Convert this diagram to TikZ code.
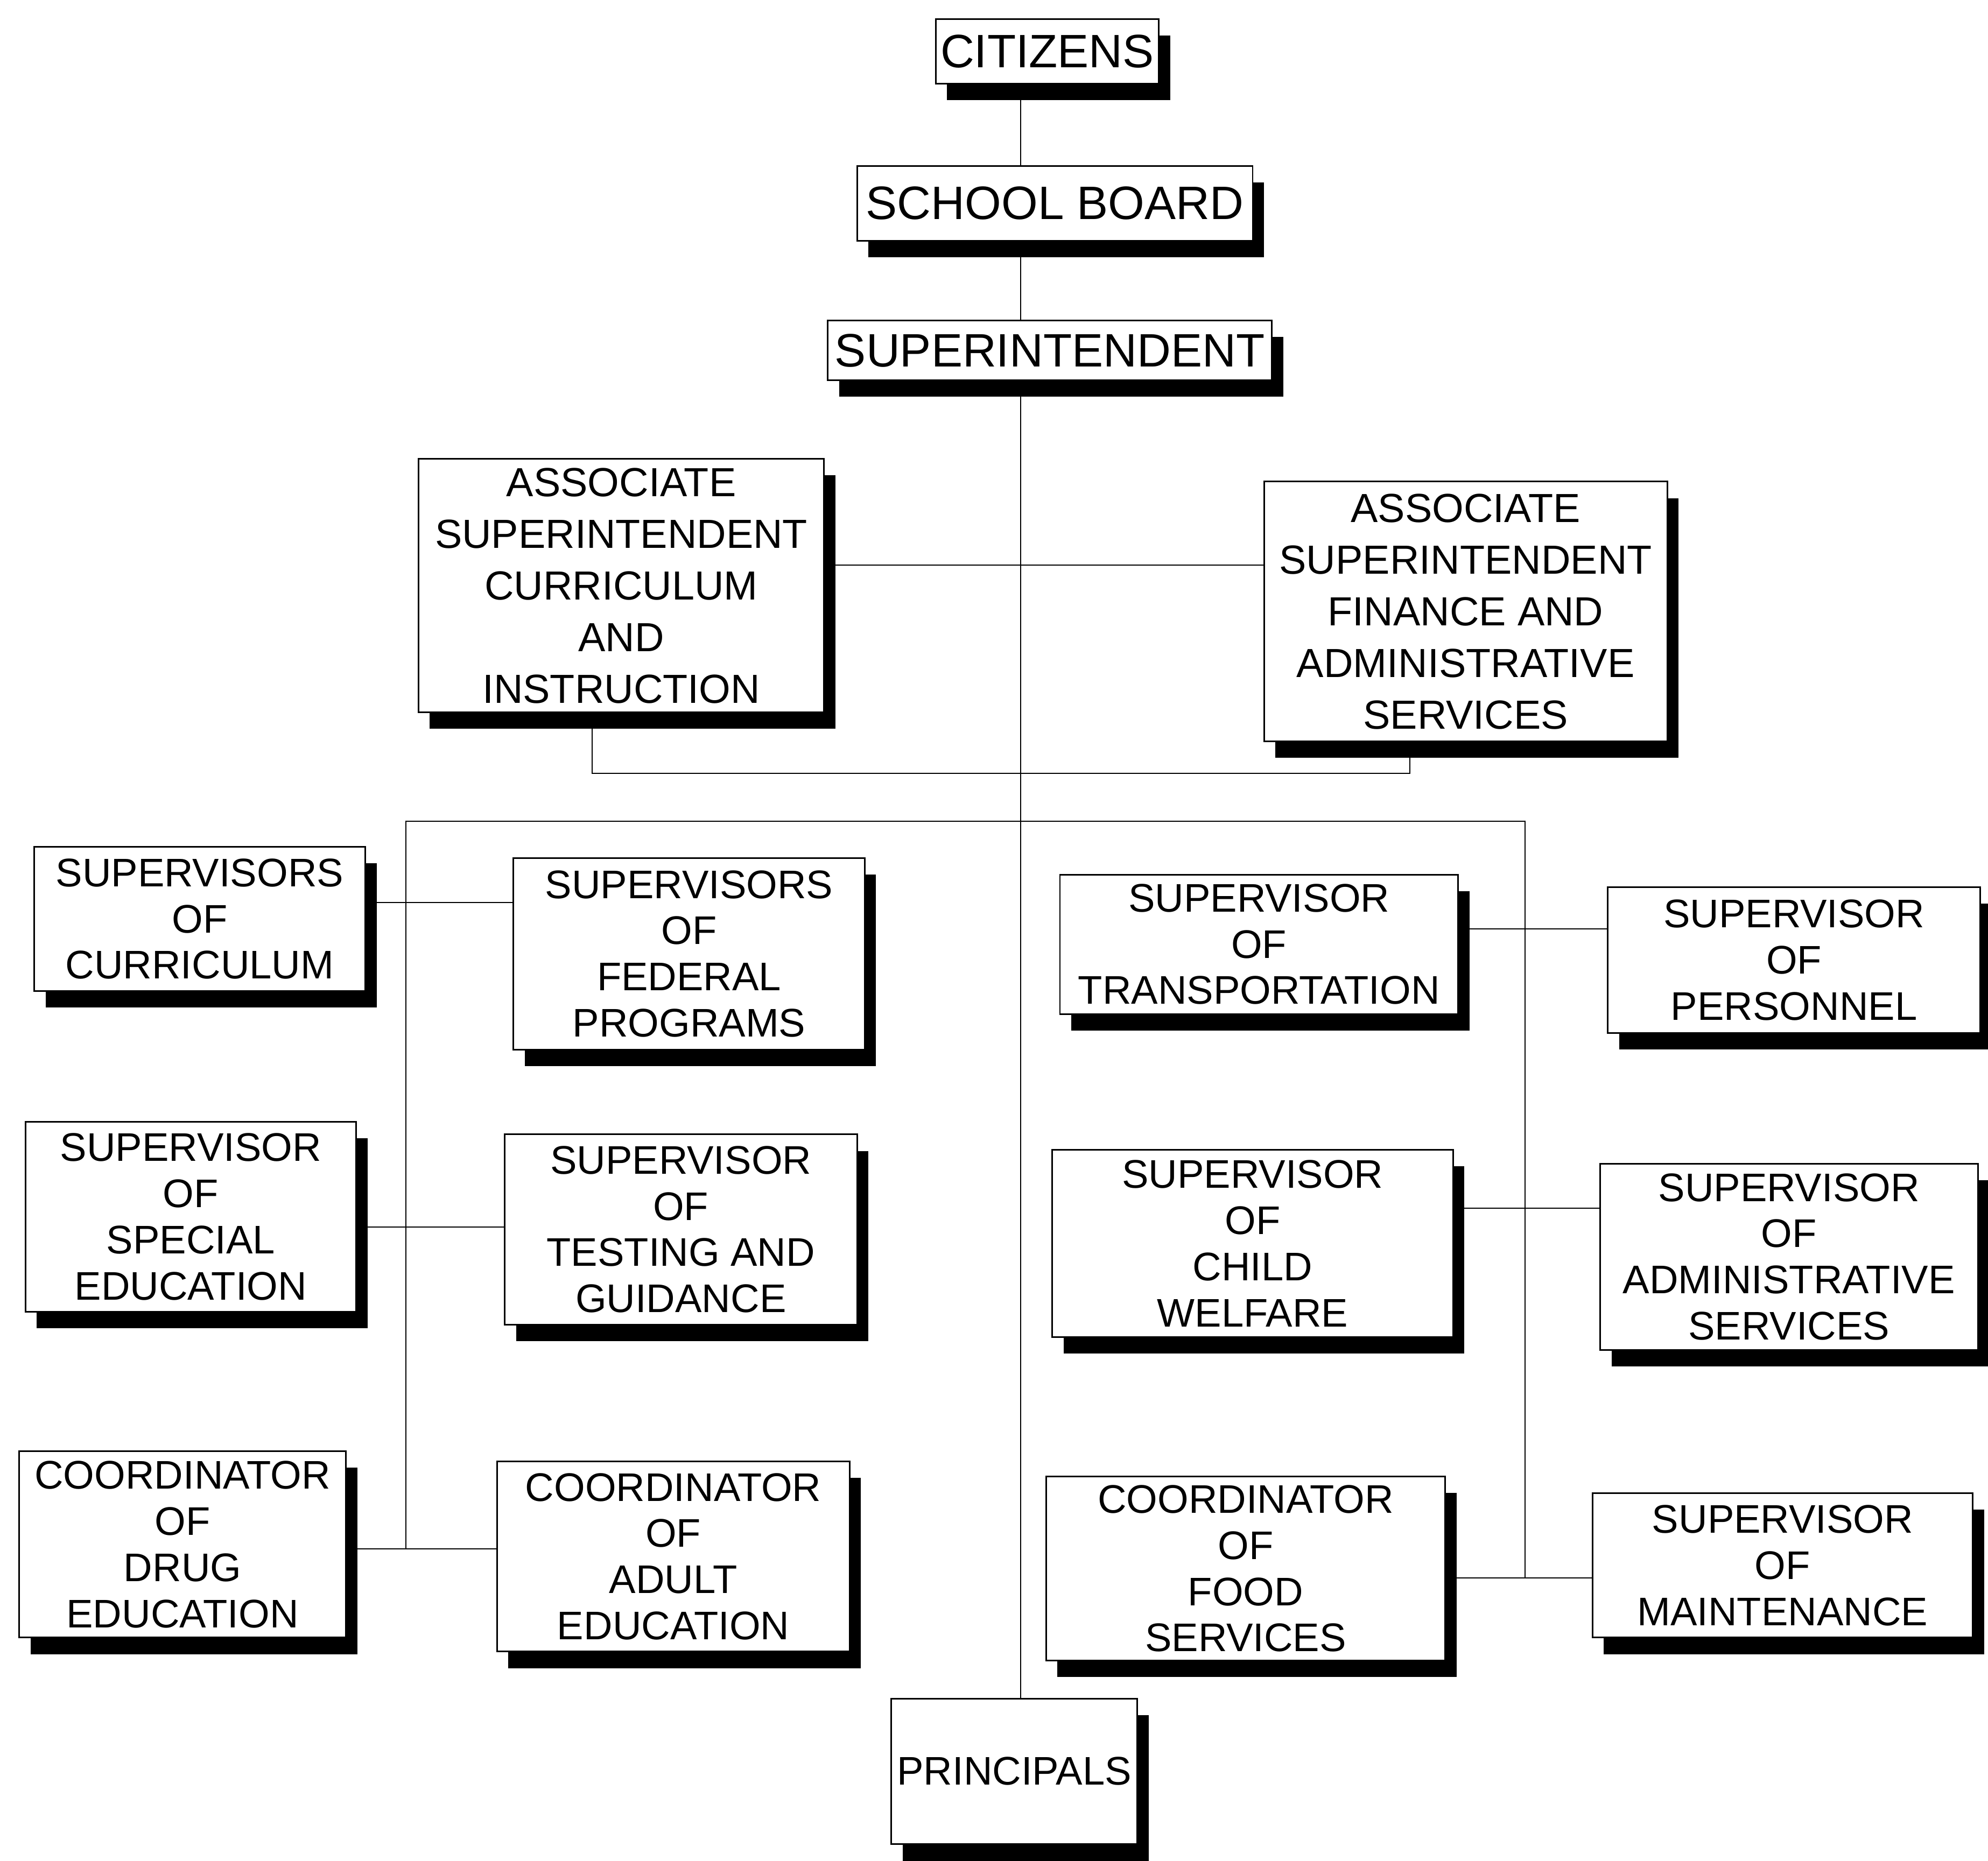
\documentclass[tikz,border=0pt]{standalone}
\usepackage{fontspec}
\setmainfont{Liberation Sans}
\usetikzlibrary{shadows}
\newcommand{\toptext}{\fontsize{26.3}{30}\selectfont}
\newcommand{\assoctext}{\fontsize{22.8}{29}\selectfont}
\newcommand{\stafftext}{\fontsize{22.4}{25.9}\selectfont}

\begin{document}
\begin{tikzpicture}[x=0.25mm, y=-0.25mm,
    box/.style={draw, fill=white, line width=0.9pt, inner sep=0pt,
      align=center, font=\stafftext,
      drop shadow={shadow xshift=2.25mm, shadow yshift=-3.25mm,
        fill=black, opacity=1}},
    boxdim/.style 2 args={minimum width=#1*0.25mm, minimum height=#2*0.25mm},
    link/.style={line width=0.6pt}]

  \useasboundingbox (0,0) rectangle (1568,1468);

  % top of the chart
  \node (citizens) [box, font=\toptext, boxdim={176}{51}] at (826,40.5) {CITIZENS};
  \node (board) [box, font=\toptext, boxdim={312}{59}] at (832,160.5) {SCHOOL BOARD};
  \node (supt) [box, font=\toptext, boxdim={350}{47}] at (828,276.5) {SUPERINTENDENT};

  % associate superintendents
  \node (assocA) [box, font=\assoctext, boxdim={320}{200}] at (490,462)
    {ASSOCIATE\\SUPERINTENDENT\\CURRICULUM\\AND\\INSTRUCTION};
  \node (assocB) [box, font=\assoctext, boxdim={318}{205}] at (1156,482.5)
    {ASSOCIATE\\SUPERINTENDENT\\FINANCE AND\\ADMINISTRATIVE\\SERVICES};

  % first row
  \node (curr) [box, boxdim={261}{114}] at (157.5,725) {SUPERVISORS\\OF\\CURRICULUM};
  \node (fed) [box, boxdim={277}{151}] at (543.5,752.5) {SUPERVISORS\\OF\\FEDERAL\\PROGRAMS};
  \node (trans) [box, boxdim={314}{110}] at (993,745) {SUPERVISOR\\OF\\TRANSPORTATION};
  \node (pers) [box, boxdim={294}{115}] at (1415,757.5) {SUPERVISOR\\OF\\PERSONNEL};

  % second row
  \node (spec) [box, boxdim={261}{150}] at (150.5,960) {SUPERVISOR\\OF\\SPECIAL\\EDUCATION};
  \node (test) [box, boxdim={278}{150}] at (537,970) {SUPERVISOR\\OF\\TESTING AND\\GUIDANCE};
  \node (child) [box, boxdim={316}{148}] at (988,981) {SUPERVISOR\\OF\\CHILD\\WELFARE};
  \node (admin) [box, boxdim={298}{147}] at (1411,991.5) {SUPERVISOR\\OF\\ADMINISTRATIVE\\SERVICES};

  % third row
  \node (drug) [box, boxdim={258}{147}] at (144,1218.5) {COORDINATOR\\OF\\DRUG\\EDUCATION};
  \node (adult) [box, boxdim={278}{150}] at (531,1228) {COORDINATOR\\OF\\ADULT\\EDUCATION};
  \node (food) [box, boxdim={315}{145}] at (982.5,1237.5) {COORDINATOR\\OF\\FOOD\\SERVICES};
  \node (maint) [box, boxdim={300}{114}] at (1406,1235) {SUPERVISOR\\OF\\MAINTENANCE};

  \node (principals) [box, boxdim={194}{115}] at (800,1397.5) {PRINCIPALS};

  % points on the lines
  \coordinate (trunk) at (805,0);
  \coordinate (ah) at (805,446);
  \coordinate (abL) at (467,610);
  \coordinate (abR) at (1112,610);
  \coordinate (busL) at (320,648);
  \coordinate (busR) at (1203,648);
  \coordinate (L1) at (320,712);
  \coordinate (L2) at (320,968);
  \coordinate (L3) at (320,1222);
  \coordinate (R1) at (1203,733);
  \coordinate (R2) at (1203,953);
  \coordinate (R3) at (1203,1245);

  \draw [link] (citizens.south -| trunk) -- (board.north -| trunk);
  \draw [link] (board.south -| trunk) -- (supt.north -| trunk);
  \draw [link] (supt.south -| trunk) -- (principals.north -| trunk);
  \draw [link] (ah -| assocA.east) -- (ah -| assocB.west);
  \draw [link] (assocA.south -| abL) -- (abL) -- (abR) -- (assocB.south -| abR);
  \draw [link] (L3) -- (busL) -- (busR) -- (R3);

  \draw [link] (L1 -| curr.east) -- (L1 -| fed.west);
  \draw [link] (L2 -| spec.east) -- (L2 -| test.west);
  \draw [link] (L3 -| drug.east) -- (L3 -| adult.west);
  \draw [link] (R1 -| trans.east) -- (R1 -| pers.west);
  \draw [link] (R2 -| child.east) -- (R2 -| admin.west);
  \draw [link] (R3 -| food.east) -- (R3 -| maint.west);
\end{tikzpicture}
\end{document}
